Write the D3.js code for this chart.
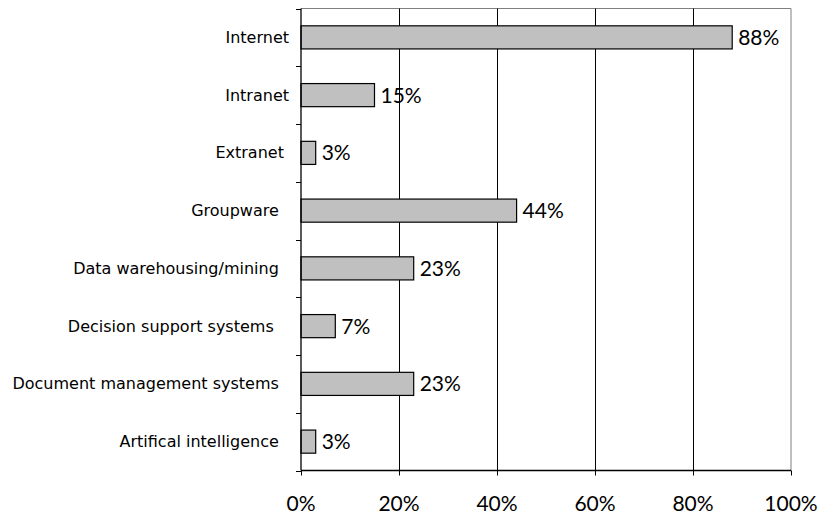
<!DOCTYPE html>
<html>
<head>
<meta charset="utf-8">
<script src="https://cdn.jsdelivr.net/npm/d3@7"></script>
<style>
  html, body { margin: 0; padding: 0; background: #fff; }
  svg { display: block; }
  .cat { font-family: "DejaVu Sans", sans-serif; font-size: 16px; fill: #000; white-space: pre; }
  .val, .xt { font-family: Lato, sans-serif; font-size: 21px; fill: #000; }
</style>
</head>
<body>
<svg id="chart" width="825" height="518"></svg>
<script>
// Share of respondents using each technology
const categories = [
  "Internet",
  "Intranet",
  "Extranet ",
  "Groupware  ",
  "Data warehousing/mining  ",
  "Decision support systems   ",
  "Document management systems  ",
  "Artifical intelligence  "
];
const values = [88, 15, 3, 44, 23, 7, 23, 3];
const xTicks = [0, 20, 40, 60, 80, 100];

const svg = d3.select("#chart");
const plot = { left: 301, right: 791, top: 8.5, bottom: 470.5 };

const x = d3.scaleLinear().domain([0, 100]).range([plot.left, plot.right]);
const y = d3.scaleBand().domain(categories).range([plot.top, plot.bottom]).paddingInner(0.6).paddingOuter(0.3);
const band = d3.scaleBand().domain(categories).range([plot.top, plot.bottom]);

// plot area frame (top and right edges)
svg.append("path")
  .attr("d", `M${plot.left},${plot.top}H${plot.right}V${plot.bottom}`)
  .attr("fill", "none").attr("stroke", "#808080").attr("stroke-width", 1);

// vertical gridlines
svg.append("g").selectAll("line")
  .data(xTicks.filter(t => t > 0 && t < 100))
  .join("line")
  .attr("x1", d => Math.round(x(d)) + 0.5).attr("x2", d => Math.round(x(d)) + 0.5)
  .attr("y1", plot.top).attr("y2", plot.bottom)
  .attr("stroke", "#000").attr("stroke-width", 1);

// bars
svg.append("g").selectAll("rect")
  .data(categories)
  .join("rect")
  .attr("x", x(0))
  .attr("y", d => y(d))
  .attr("width", (d, i) => x(values[i]) - x(0))
  .attr("height", y.bandwidth())
  .attr("fill", "#c0c0c0")
  .attr("stroke", "#000")
  .attr("stroke-width", 1.2);

// value labels
svg.append("g").selectAll("text")
  .data(categories)
  .join("text")
  .attr("class", "val")
  .attr("x", (d, i) => x(values[i]) + 6)
  .attr("y", d => y(d) + y.bandwidth() / 2 + 7.5)
  .text((d, i) => values[i] + "%");

// category axis: ticks between categories
const yAxis = svg.append("g");
const boundaries = categories.map(c => band(c)).concat([plot.bottom]);
yAxis.selectAll("line.tk")
  .data(boundaries)
  .join("line")
  .attr("x1", plot.left - 5).attr("x2", plot.left)
  .attr("y1", d => Math.round(d) + 0.5).attr("y2", d => Math.round(d) + 0.5)
  .attr("stroke", "#000");
yAxis.append("line")
  .attr("x1", plot.left).attr("x2", plot.left)
  .attr("y1", plot.top).attr("y2", plot.bottom)
  .attr("stroke", "#000").attr("stroke-width", 1.3);
yAxis.selectAll("text")
  .data(categories)
  .join("text")
  .attr("class", "cat")
  .attr("text-anchor", "end")
  .attr("x", 289)
  .attr("y", d => band(d) + band.bandwidth() / 2 + 5.5)
  .text(d => d);

// value axis
const xAxis = svg.append("g");
xAxis.append("line")
  .attr("x1", plot.left).attr("x2", plot.right)
  .attr("y1", plot.bottom).attr("y2", plot.bottom)
  .attr("stroke", "#000").attr("stroke-width", 1.3);
xAxis.selectAll("line.tk")
  .data(xTicks)
  .join("line")
  .attr("x1", d => Math.round(x(d)) + 0.5).attr("x2", d => Math.round(x(d)) + 0.5)
  .attr("y1", plot.bottom).attr("y2", plot.bottom + 5)
  .attr("stroke", "#000");
xAxis.selectAll("text")
  .data(xTicks)
  .join("text")
  .attr("class", "xt")
  .attr("text-anchor", "middle")
  .attr("x", d => x(d))
  .attr("y", 511)
  .text(d => d + "%");
</script>
</body>
</html>
